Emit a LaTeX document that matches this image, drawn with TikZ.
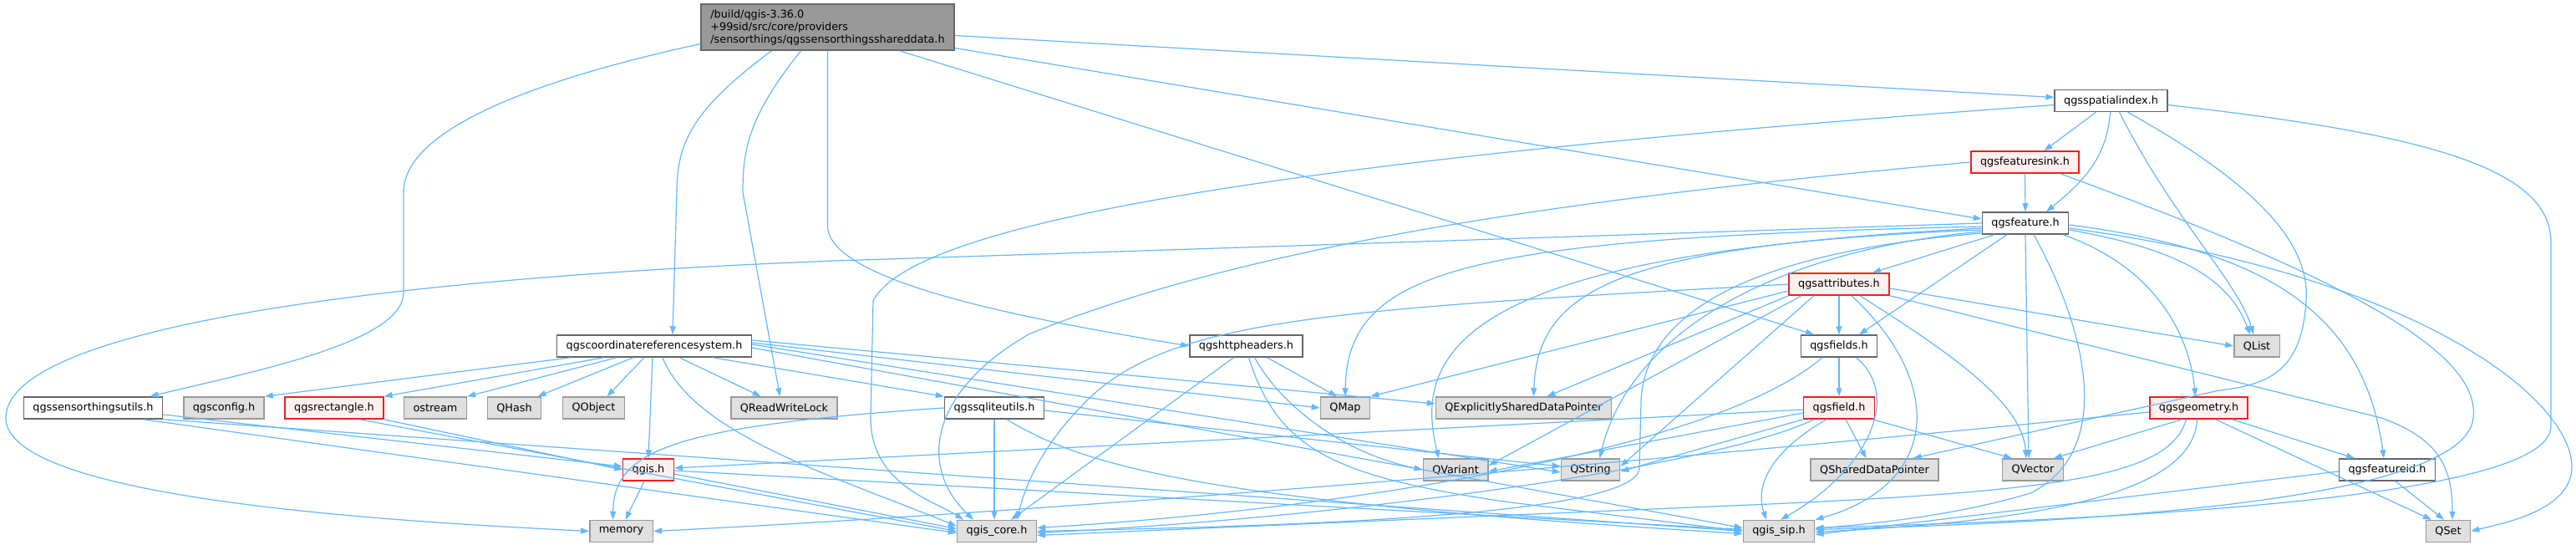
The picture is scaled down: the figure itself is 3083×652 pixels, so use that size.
\documentclass[tikz,border=0pt]{standalone}
\usepackage{fontspec}
\setmainfont{DejaVu Sans}
\usetikzlibrary{arrows.meta}
\definecolor{edgeblue}{RGB}{99,184,255}
\definecolor{sysgray}{RGB}{224,224,224}
\definecolor{rimgray}{RGB}{153,153,153}
\definecolor{rimdark}{RGB}{102,102,102}
\definecolor{cutpink}{RGB}{255,240,240}
\definecolor{cutred}{RGB}{240,30,30}

\begin{document}
\begin{tikzpicture}[x=1pt, y=-1pt,
    hfile/.style={draw=rimdark, line width=1.5pt, fill=white, minimum height=26pt,
        inner xsep=11pt, inner ysep=0pt, font=\fontsize{12.8}{15}\selectfont},
    sysfile/.style={hfile, draw=rimgray, fill=sysgray},
    cutfile/.style={hfile, draw=cutred, fill=cutpink},
    rootfile/.style={hfile, fill=rimgray, align=left, minimum width=303pt, minimum height=55pt},
    inc/.style={draw=edgeblue, line width=1.2pt, -{Triangle[length=10pt,width=7pt]}}]
    \useasboundingbox (0,0) rectangle (3083,652);

    % files
    \node[rootfile] (root) at (990.5,32.5)
        {/build/qgis-3.36.0\\+99sid/src/core/providers\\/sensorthings/qgssensorthingsshareddata.h};
    \node[hfile] (spatial) at (2526.5,120.5) {qgsspatialindex.h};
    \node[cutfile] (sink) at (2423.5,194) {qgsfeaturesink.h};
    \node[hfile] (feature) at (2424,267) {qgsfeature.h};
    \node[cutfile] (attrs) at (2201,340) {qgsattributes.h};
    \node[hfile] (crs) at (783,414) {qgscoordinatereferencesystem.h};
    \node[hfile] (http) at (1491.5,414) {qgshttpheaders.h};
    \node[hfile] (fields) at (2201,414) {qgsfields.h};
    \node[sysfile] (qlist) at (2701,414) {QList};
    \node[hfile] (stutils) at (111.5,488) {qgssensorthingsutils.h};
    \node[sysfile] (config) at (268,488) {qgsconfig.h};
    \node[cutfile] (rect) at (400,488) {qgsrectangle.h};
    \node[sysfile] (ostream) at (521,488) {ostream};
    \node[sysfile] (qhash) at (615.5,488) {QHash};
    \node[sysfile] (qobject) at (710.5,488) {QObject};
    \node[sysfile] (rwlock) at (938.5,488) {QReadWriteLock};
    \node[hfile] (sqlite) at (1190,488) {qgssqliteutils.h};
    \node[sysfile] (qmap) at (1610,488) {QMap};
    \node[sysfile] (qesdp) at (1823.5,488) {QExplicitlySharedDataPointer};
    \node[cutfile] (field) at (2201,488) {qgsfield.h};
    \node[cutfile] (geom) at (2631.5,488) {qgsgeometry.h};
    \node[cutfile] (qgis) at (776,562) {qgis.h};
    \node[sysfile] (qvariant) at (1742,562) {QVariant};
    \node[sysfile] (qstring) at (1903.5,562) {QString};
    \node[sysfile] (qsdp) at (2243.5,562) {QSharedDataPointer};
    \node[sysfile] (qvector) at (2433,562) {QVector};
    \node[hfile] (fid) at (2857,562) {qgsfeatureid.h};
    \node[sysfile] (memory) at (743.5,635.5) {memory};
    \node[sysfile] (core) at (1193,635.5) {qgis\_core.h};
    \node[sysfile] (sip) at (2129,635.5) {qgis\_sip.h};
    \node[sysfile] (qset) at (2930,635.5) {QSet};

    % includes of the root file
    \draw[inc] ([yshift=-20pt]root.west) .. controls (620,100) and (483,160) .. (483,230)
        -- (483,350) .. controls (483,410) and (300,445) .. ([xshift=68pt]stutils.north);
    \draw[inc] ([xshift=-67pt]root.south) .. controls (830,130) and (810,170) .. (810,230)
        -- ([xshift=22pt]crs.north);
    \draw[inc] ([xshift=-32pt]root.south) .. controls (895,140) and (889,180) .. (889,230)
        -- ([xshift=-5pt]rwlock.north);
    \draw[inc] (root.south) -- (990.5,270) .. controls (990.5,340) and (1250,385) .. (http.west);
    \draw[inc] ([xshift=86pt]root.south) -- ([xshift=-30pt]fields.north);
    \draw[inc] ([yshift=-25pt]root.east) -- ([yshift=5pt]feature.west);
    \draw[inc] ([yshift=-10pt]root.east) -- ([yshift=4pt]spatial.west);

    % qgsspatialindex.h
    \draw[inc] ([xshift=-18pt]spatial.south) -- ([xshift=23pt]sink.north);
    \draw[inc] ([xshift=-1pt]spatial.south) .. controls (2522,190) and (2490,220) .. ([xshift=25pt]feature.north);
    \draw[inc] ([xshift=10pt]spatial.south) .. controls (2600,260) and (2680,340) .. ([xshift=-4pt]qlist.north);
    \draw[inc] ([xshift=20pt]spatial.south) .. controls (2700,220) and (2765,290) .. (2760,360)
        .. controls (2755,440) and (2720,460) .. (2656,467) -- ([xshift=46pt]qsdp.north);
    \draw[inc] ([yshift=-5pt]spatial.east) .. controls (2900,160) and (3053,200) .. (3053,290)
        -- (3053,510) .. controls (3053,600) and (2500,622) .. ([yshift=4pt]sip.east);
    \draw[inc] ([yshift=-5pt]spatial.west) .. controls (1700,180) and (1100,250) .. (1045,360)
        -- (1042,500) .. controls (1042,580) and (1120,600) .. ([xshift=-40pt]core.north);

    % qgsfeaturesink.h
    \draw[inc] (sink.west) .. controls (1900,235) and (1500,290) .. (1231,400)
        .. controls (1110,470) and (1100,560) .. ([xshift=-28pt]core.north);
    \draw[inc] (sink.south) -- (feature.north);
    \draw[inc] ([xshift=42pt]sink.south) .. controls (2800,330) and (2970,420) .. (2960,500)
        .. controls (2950,600) and (2500,625) .. ([yshift=2pt]sip.east);

    % qgsfeature.h
    \draw[inc] (feature.west) -- (1000,312) .. controls (400,335) and (7,400) .. (7,500)
        .. controls (7,600) and (500,625) .. (memory.west);
    \draw[inc] ([yshift=-4pt]feature.west) .. controls (1760,285) and (1612,320) .. (qmap.north);
    \draw[inc] ([yshift=-6pt]feature.west) .. controls (1950,295) and (1840,340) .. ([xshift=12pt]qesdp.north);
    \draw[inc] ([yshift=-8pt]feature.west) .. controls (1750,300) and (1690,420) .. ([xshift=-20pt]qvariant.north);
    \draw[inc] ([yshift=-10pt]feature.west) .. controls (2120,300) and (1950,400) .. ([xshift=11pt]qstring.north);
    \draw[inc] ([yshift=-12pt]feature.west) .. controls (2060,305) and (1968,390) .. (1964,480)
        -- (1962,560) .. controls (1960,620) and (1500,630) .. (core.east);
    \draw[inc] ([xshift=10pt]feature.south) .. controls (2500,400) and (2530,540) .. (2430,590)
        .. controls (2330,620) and (2220,628) .. ([yshift=3pt]sip.east);
    \draw[inc] (feature.south) -- ([xshift=-5pt]qvector.north);
    \draw[inc] ([yshift=-8pt]feature.east) .. controls (2620,300) and (2670,340) .. ([xshift=-8pt]qlist.north);
    \draw[inc] ([yshift=-6pt]feature.east) .. controls (2900,330) and (3080,480) .. (3078,560)
        .. controls (3076,610) and (3000,625) .. (qset.east);
    \draw[inc] ([xshift=-37pt]feature.south) -- ([xshift=40pt]attrs.north);
    \draw[inc] ([xshift=-22pt]feature.south) -- ([xshift=24pt]fields.north);
    \draw[inc] ([xshift=45pt]feature.south) .. controls (2580,320) and (2620,400) .. ([xshift=-4pt]geom.north);
    \draw[inc] ([yshift=-2pt]feature.east) .. controls (2720,300) and (2830,380) .. ([xshift=-4pt]fid.north);

    % qgsattributes.h
    \draw[inc] (attrs.west) .. controls (1600,370) and (1400,380) .. (1300,480)
        .. controls (1240,540) and (1225,590) .. ([xshift=24pt]core.north);
    \draw[inc] ([yshift=-8pt]attrs.west) -- (qmap.north east);
    \draw[inc] (attrs.south west) -- ([xshift=28pt]qesdp.north);
    \draw[inc] ([xshift=-45pt]attrs.south) -- ([yshift=5pt]qvariant.east);
    \draw[inc] ([xshift=-30pt]attrs.south) -- ([yshift=4pt]qstring.east);
    \draw[inc] (attrs.south) -- (fields.north);
    \draw[inc] ([yshift=-5pt]attrs.east) -- (qlist.west);
    \draw[inc] ([xshift=25pt]attrs.south) .. controls (2330,420) and (2420,480) .. ([xshift=-8pt]qvector.north);
    \draw[inc] (attrs.south east) -- (2850,500) .. controls (2920,525) and (2935,560) .. ([xshift=5pt]qset.north);
    \draw[inc] ([xshift=15pt]attrs.south) .. controls (2330,460) and (2320,580) .. (sip.north east);

    % qgsfields.h
    \draw[inc] (fields.south) -- (field.north);
    \draw[inc] ([xshift=20pt]fields.south) .. controls (2275,470) and (2240,560) .. ([xshift=2pt]sip.north);
    \draw[inc] ([xshift=-20pt]fields.south) .. controls (2050,540) and (1600,610) .. ([yshift=4pt]core.east);

    % qgsfield.h
    \draw[inc] ([yshift=-2pt]field.west) -- ([yshift=2pt]qgis.east);
    \draw[inc] ([yshift=-6pt]field.west) -- ([yshift=-2pt]qvariant.east);
    \draw[inc] (field.south west) -- ([yshift=-2pt]qstring.east);
    \draw[inc] ([xshift=-30pt]field.south) .. controls (2050,560) and (1600,620) .. ([yshift=-2pt]core.east);
    \draw[inc] ([xshift=-15pt]field.south) .. controls (2120,540) and (2100,580) .. ([xshift=-15pt]sip.north);
    \draw[inc] ([xshift=8pt]field.south) -- ([xshift=-10pt]qsdp.north);
    \draw[inc] ([xshift=40pt]field.south) -- ([xshift=-25pt]qvector.north);

    % qgsgeometry.h
    \draw[inc] ([yshift=-5pt]geom.west) .. controls (2000,550) and (1300,610) .. (memory.east);
    \draw[inc] ([xshift=-20pt]geom.south) -- ([xshift=25pt]qvector.north);
    \draw[inc] ([xshift=-15pt]geom.south) .. controls (2595,575) and (2450,590) .. (2000,608)
        -- ([yshift=-5pt]core.east);
    \draw[inc] ([xshift=-2pt]geom.south) .. controls (2625,600) and (2400,625) .. ([yshift=-1pt]sip.east);
    \draw[inc] ([xshift=20pt]geom.south) -- ([xshift=-20pt]qset.north);
    \draw[inc] ([xshift=40pt]geom.south) -- ([xshift=-39pt]fid.north);

    % qgsfeatureid.h
    \draw[inc] ([yshift=-2pt]fid.west) -- ([yshift=-4pt]sip.east);
    \draw[inc] ([xshift=10pt]fid.south) -- ([xshift=-5pt]qset.north);

    % qgshttpheaders.h
    \draw[inc] ([xshift=-15pt]http.south) -- ([xshift=17pt]core.north);
    \draw[inc] ([xshift=3pt]http.south) .. controls (1530,540) and (1600,570) .. (1800,600) -- (sip.west);
    \draw[inc] ([xshift=10pt]http.south) .. controls (1530,480) and (1600,540) .. (qvariant.west);
    \draw[inc] ([xshift=25pt]http.south) -- ([xshift=-10pt]qmap.north);

    % qgssqliteutils.h
    \draw[inc] (sqlite.west) .. controls (800,510) and (735,540) .. ([xshift=-10pt]memory.north);
    \draw[inc] (sqlite.south) -- ([xshift=-3pt]core.north);
    \draw[inc] ([xshift=15pt]sqlite.south) .. controls (1300,560) and (1450,600) .. ([yshift=-3pt]sip.west);
    \draw[inc] ([yshift=-3pt]sqlite.east) -- ([yshift=4pt]qstring.west);

    % qgis.h
    \draw[inc] ([xshift=-5pt]qgis.south) -- ([xshift=5pt]memory.north);
    \draw[inc] ([yshift=-5pt]qgis.east) -- ([yshift=3pt]core.west);
    \draw[inc] ([yshift=-1pt]qgis.east) -- ([yshift=2pt]sip.west);

    % qgssensorthingsutils.h and qgsrectangle.h
    \draw[inc] ([yshift=-8pt]stutils.east) -- ([yshift=4pt]qgis.west);
    \draw[inc] ([xshift=60pt]stutils.south) -- ([yshift=-2pt]core.west);
    \draw[inc] (stutils.south east) -- (sip.west);
    \draw[inc] (rect.south east) -- (qgis.west);
    \draw[inc] ([xshift=30pt]rect.south) -- (core.west);

    % qgscoordinatereferencesystem.h
    \draw[inc] ([xshift=-100pt]crs.south) -- (config.north east);
    \draw[inc] ([xshift=-60pt]crs.south) -- (rect.north east);
    \draw[inc] ([xshift=-45pt]crs.south) -- (ostream.north east);
    \draw[inc] ([xshift=-25pt]crs.south) -- ([xshift=28pt]qhash.north);
    \draw[inc] ([xshift=-12pt]crs.south) -- ([xshift=16pt]qobject.north);
    \draw[inc] ([xshift=-2pt]crs.south) -- (qgis.north);
    \draw[inc] ([xshift=10pt]crs.south) .. controls (830,520) and (1000,570) .. ([yshift=6pt]core.west);
    \draw[inc] ([xshift=30pt]crs.south) -- ([xshift=-28pt]rwlock.north);
    \draw[inc] ([xshift=70pt]crs.south) -- (sqlite.north west);
    \draw[inc] ([yshift=4pt]crs.east) -- (qmap.west);
    \draw[inc] ([yshift=7pt]crs.east) -- ([yshift=5pt]qesdp.west);
    \draw[inc] ([yshift=2pt]crs.east) -- ([yshift=-3pt]qstring.west);
    \draw[inc] ([yshift=-2pt]crs.east) -- ([yshift=4pt]sip.west);
\end{tikzpicture}
\end{document}
